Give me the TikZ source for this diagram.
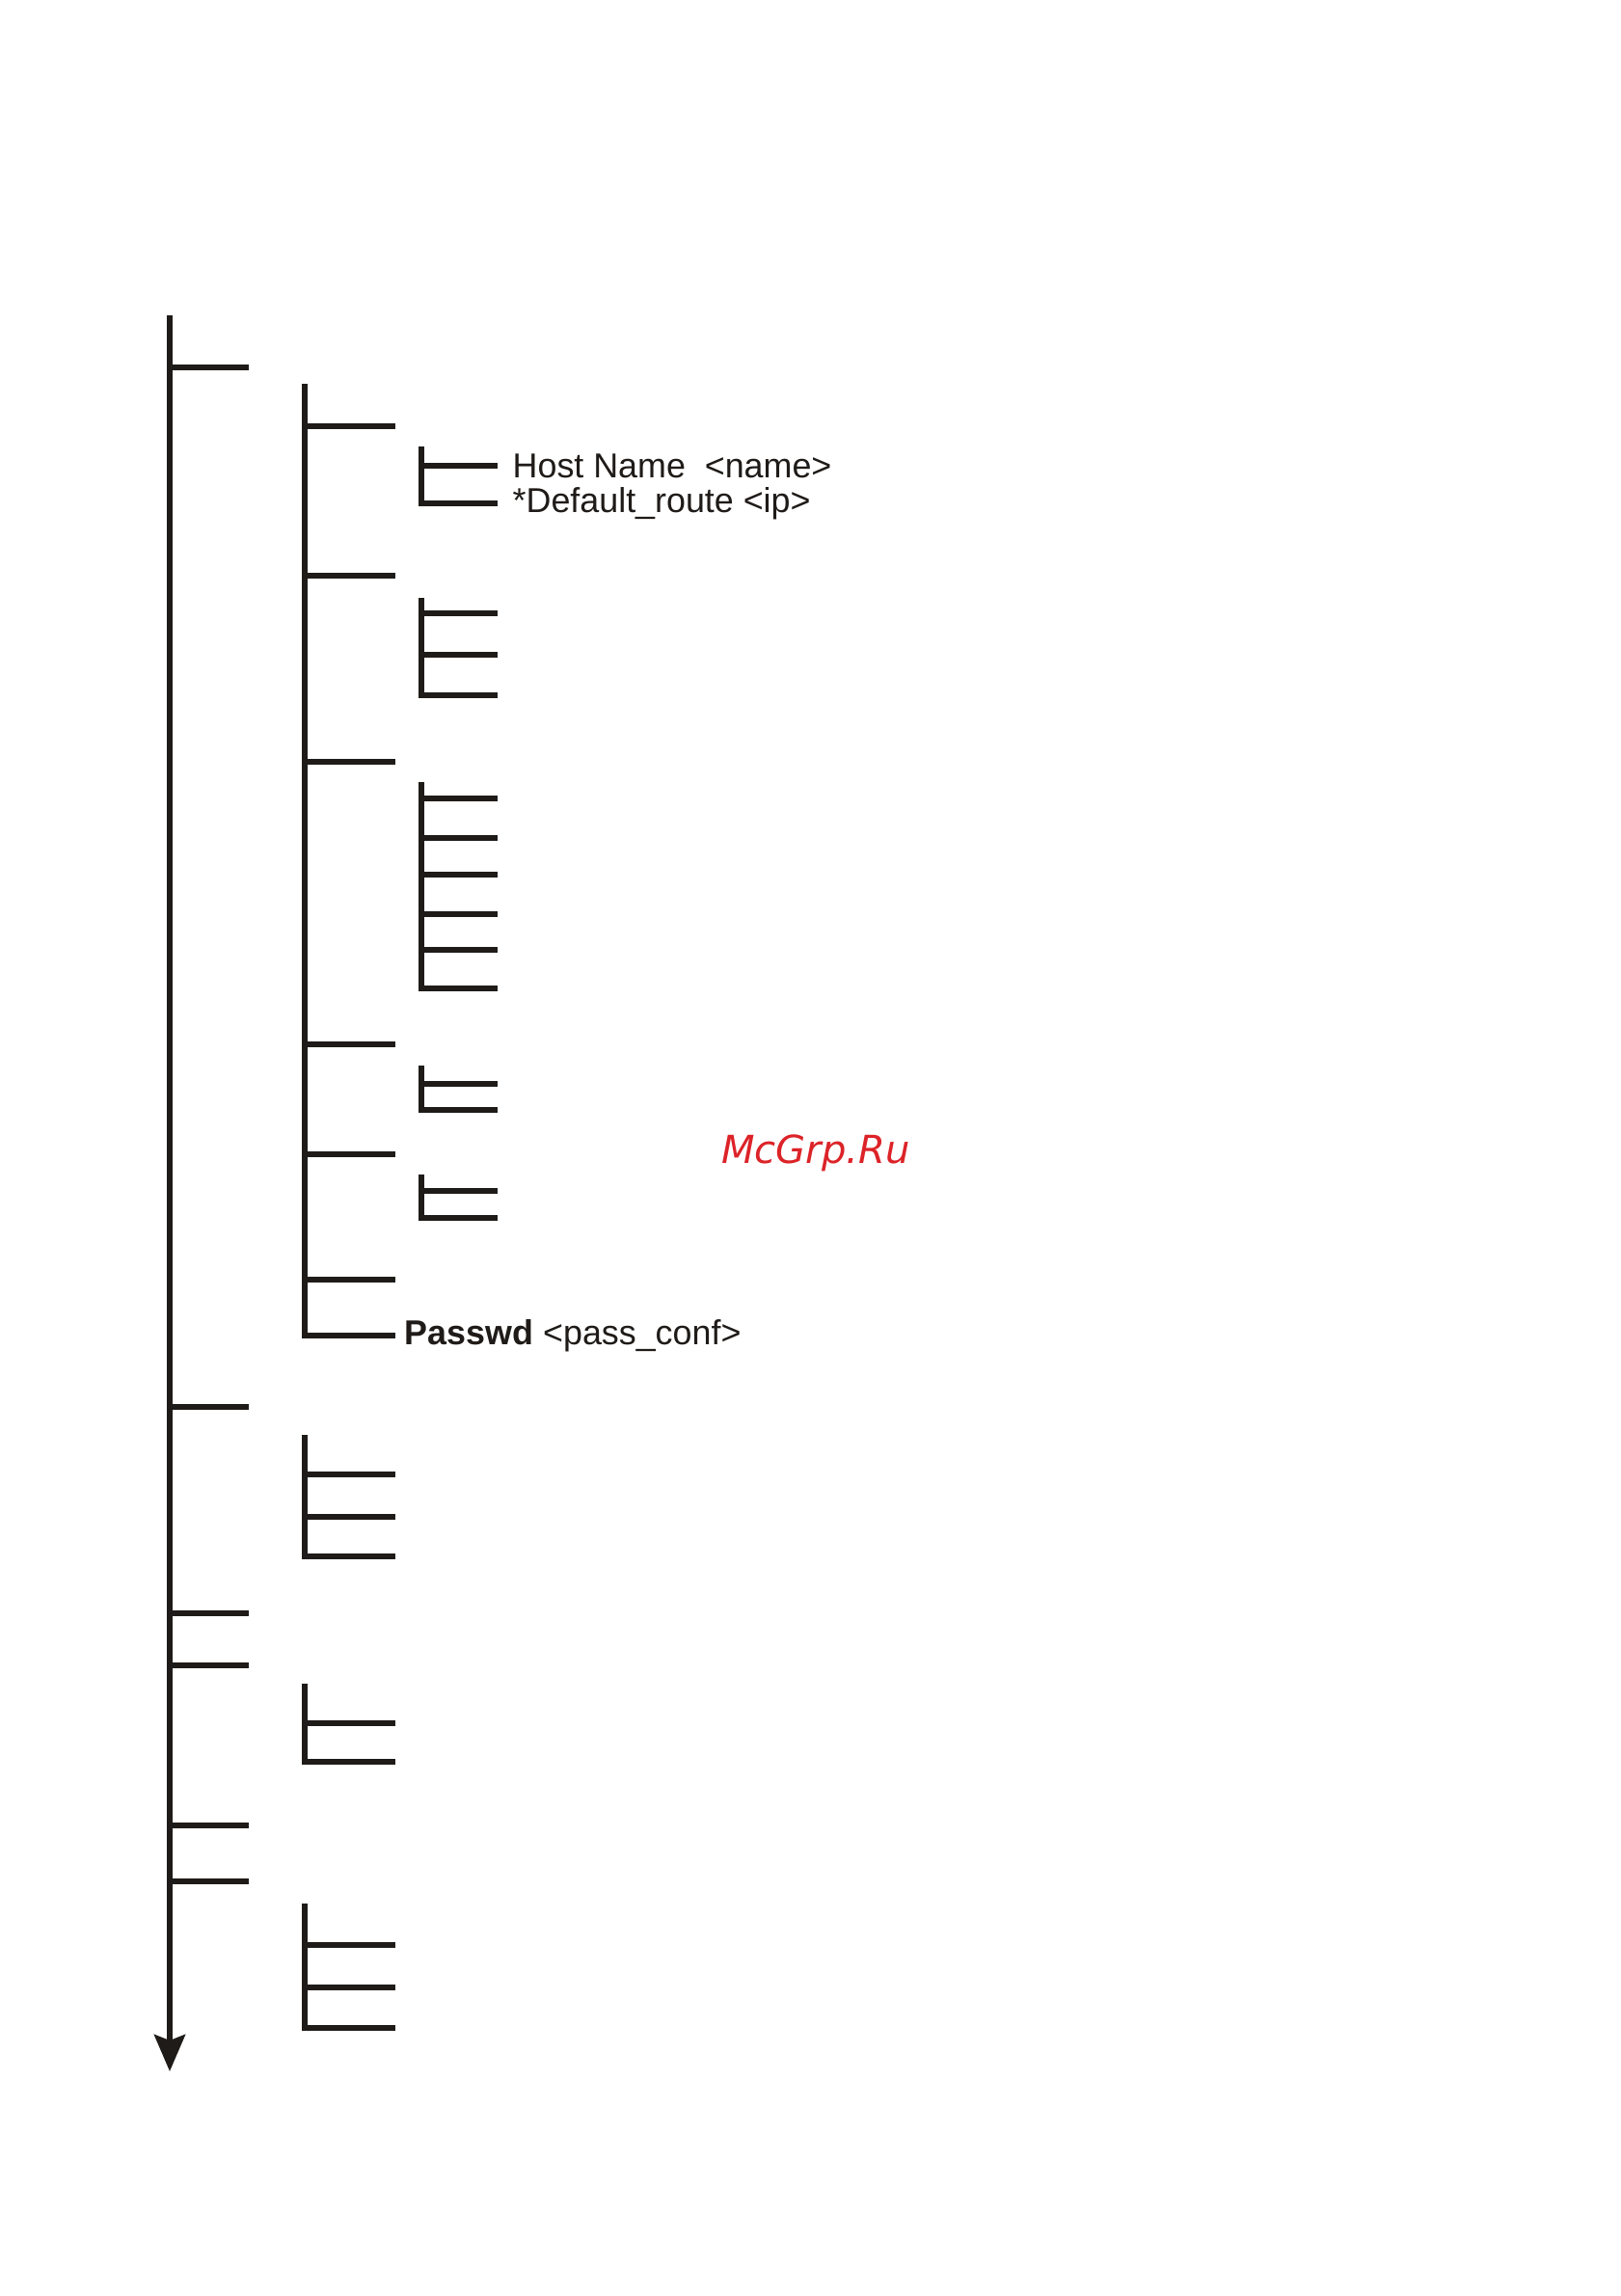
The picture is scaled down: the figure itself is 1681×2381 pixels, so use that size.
\documentclass[tikz,border=0pt]{standalone}
\usepackage{fontspec}
\setmainfont{Liberation Sans}
\newfontfamily\markfont{DejaVu Sans}
\usetikzlibrary{arrows.meta, positioning}
\definecolor{markred}{RGB}{220,35,40}
\definecolor{ink}{RGB}{31,27,24}

\begin{document}
\begin{tikzpicture}[
    x=0.1mm, y=-0.1mm,
    rail/.style={draw=ink, line width=0.6mm},
    entry/.style={anchor=west, inner ysep=0pt, inner xsep=1.5mm,
                  text=ink, font=\fontsize{10.2}{12}\selectfont},
    >={Stealth[length=3.8mm, width=3.2mm, inset=0.6mm]}
  ]
  \useasboundingbox (0,0) rectangle (1681,2381);

  % Main trunk
  \coordinate (top) at (176,327);
  \coordinate (tip) at (176,2148);
  \draw[rail, ->] (top) -- (tip);
  \foreach \y [count=\i] in {381,1459,1673,1727,1893,1951} {
    \coordinate (t\i) at (176,\y);
    \draw[rail] (t\i) -- (258,\y);
  }

  % Second level, first block
  \node[entry, inner xsep=0.9mm] (passwd) at (410,1385)
    {\textbf{Passwd} <pass\_conf>};
  \coordinate (mtop) at (316,398);
  \draw[rail] (mtop) |- (passwd.west);
  \foreach \y in {442,597,790,1083,1197,1327}
    \draw[rail] (316,\y) -- (410,\y);

  % Host name / default route
  \node[entry] (host) at (516,483) {Host Name\ \ <name>};
  \node[entry] (route) at (516,522) {*Default\_route <ip>};
  \coordinate (htop) at (437,463);
  \draw[rail] (htop) |- (route.west);
  \draw[rail] (437,483) -- (host.west);

  % Ladders
  \foreach \bx/\ex/\top/\ys/\last in {
      437/516/620/{636,679}/721,
      437/516/811/{828,869,907,948,985}/1025,
      437/516/1105/{1124}/1151,
      437/516/1218/{1235}/1263,
      316/410/1488/{1529,1573}/1614,
      316/410/1746/{1787}/1827,
      316/410/1974/{2017,2061}/2103} {
    \coordinate (lt) at (\bx,\top);
    \coordinate (lb) at (\ex,\last);
    \draw[rail] (lt) |- (lb);
    \foreach \y in \ys
      \draw[rail] (\bx,\y) -- (\ex,\y);
  }

  % Watermark
  \node[text=markred, font=\markfont\itshape\fontsize{11.4}{13}\selectfont]
    (mark) at (846,1196) {McGrp.Ru};
\end{tikzpicture}
\end{document}
